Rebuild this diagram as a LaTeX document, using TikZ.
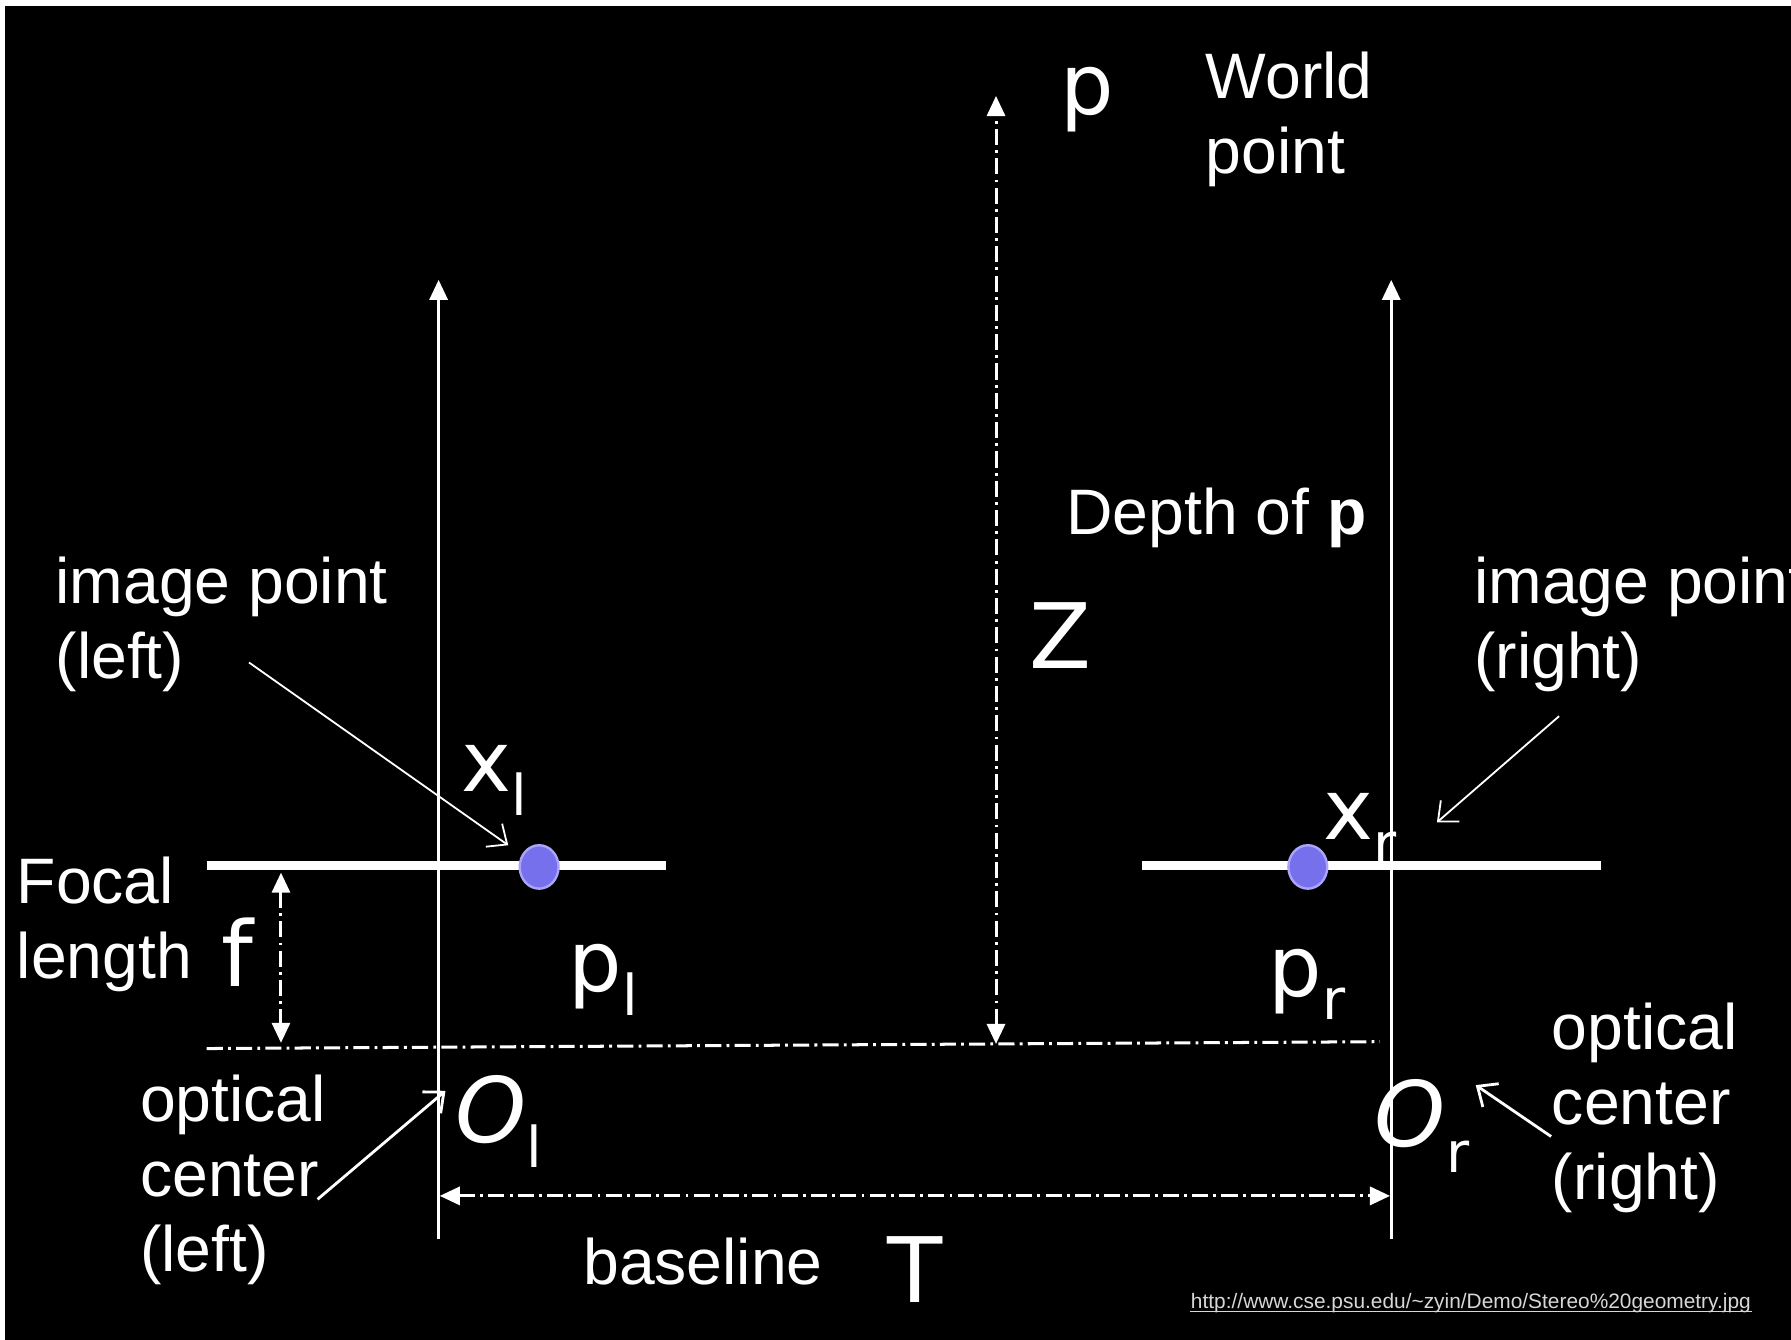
\documentclass[tikz,border=0pt]{standalone}
\usepackage{fontspec}
\setmainfont{Liberation Sans}
\newfontfamily\rnd{DejaVu Sans}
\usetikzlibrary{arrows.meta,shapes.geometric}
\definecolor{dotblue}{RGB}{118,112,236}
\definecolor{dotrim}{RGB}{170,165,250}
\definecolor{urlgray}{RGB}{215,215,215}
\newcommand\mysub[2]{#1\raisebox{-0.28em}{\upshape\fontsize{14}{14}\selectfont #2}}
\begin{document}
\begin{tikzpicture}[x=0.01cm,y=-0.01cm,
 lbl/.style={text=white,font=\fontsize{16}{18.7}\selectfont,inner sep=0pt,anchor=base west,align=left},
 sym/.style={text=white,font=\rnd\fontsize{21}{21}\selectfont,inner sep=0pt,anchor=base west},
 axisline/.style={white,line width=0.75pt,-{Triangle[length=5pt,width=4.5pt]}},
 plane/.style={white,line width=2.3pt},
 dd/.style={white,line width=0.75pt,dash pattern=on 4pt off 1.3pt on 0.7pt off 1.3pt},
 ddarr/.style={dd,{Triangle[length=5pt,width=4.5pt]}-{Triangle[length=5pt,width=4.5pt]}},
 ptr/.style={white,line width=0.45pt,-{Straight Barb[length=4pt,width=7pt]}},
 ptrb/.style={white,line width=0.7pt,-{Straight Barb[length=4pt,width=7pt]}},
 imgdot/.style={ellipse,minimum width=0.34cm,minimum height=0.38cm,fill=dotblue,draw=dotrim,line width=0.6pt,inner sep=0pt}]
\useasboundingbox (0,0) rectangle (1568,1173);
\fill[white] (0,0) rectangle (1568,1173);
\fill[black] (4,5) rectangle (1568,1173);

% coordinates
\coordinate (LaxB) at (384,1085);
\coordinate (LaxT) at (384,245);
\coordinate (RaxB) at (1218,1085);
\coordinate (RaxT) at (1218,245);
\coordinate (LplA) at (181,758);
\coordinate (LplB) at (583,758);
\coordinate (RplA) at (1000,758);
\coordinate (RplB) at (1402,758);
\coordinate (BlA) at (181,918);
\coordinate (BlB) at (1208,912);
\coordinate (ZB) at (872,914);
\coordinate (ZT) at (872,84);
\coordinate (fT) at (246,764);
\coordinate (fB) at (246,913);
\coordinate (TL) at (385,1047);
\coordinate (TR) at (1217,1047);
\coordinate (aIL0) at (218,580);
\coordinate (aIL1) at (445,740);
\coordinate (aIR0) at (1365,627);
\coordinate (aIR1) at (1258,720);
\coordinate (aOL0) at (278,1050);
\coordinate (aOL1) at (390,955);
\coordinate (aOR0) at (1358,995);
\coordinate (aOR1) at (1292,950);

% axes and planes
\draw[axisline] (LaxB) -- (LaxT);
\draw[axisline] (RaxB) -- (RaxT);
\draw[plane] (LplA) -- (LplB);
\draw[plane] (RplA) -- (RplB);

% dash-dot lines
\draw[dd] (BlA) -- (BlB);
\draw[ddarr] (ZB) -- (ZT);
\draw[ddarr] (fT) -- (fB);
\draw[ddarr] (TL) -- (TR);

% image points
\node[imgdot] (dotL) at (472,759) {};
\node[imgdot] (dotR) at (1145,759) {};

% pointer arrows
\draw[ptr] (aIL0) -- (aIL1);
\draw[ptr] (aIR0) -- (aIR1);
\draw[ptrb] (aOL0) -- (aOL1);
\draw[ptrb] (aOR0) -- (aOR1);

% text labels (anchor = baseline of last line)
\node[lbl] (nWorld) at (1055,152) {World\\point};
\node[lbl] (nDepth) at (933,468) {Depth of \textbf{p}};
\node[lbl] (nImgL) at (48,594) {image point\\(left)};
\node[lbl] (nImgR) at (1290,594) {image point\\(right)};
\node[lbl] (nFocal) at (14,857) {Focal\\length};
\node[lbl] (nOptL) at (122,1113) {optical\\center\\(left)};
\node[lbl] (nOptR) at (1358,1050) {optical\\center\\(right)};
\node[lbl] (nBase) at (510,1125) {baseline};
\node[text=urlgray,font=\fontsize{5.2}{6}\selectfont,inner sep=0pt,anchor=base west] (nURL) at (1042,1146) {http://www.cse.psu.edu/\textasciitilde zyin/Demo/Stereo\%20geometry.jpg};
\draw[urlgray,line width=0.35pt] ([yshift=-0.7pt]nURL.base west) -- ([yshift=-0.7pt]nURL.base east);

% symbols
\node[sym] (nP) at (928,100) {p};
\node[sym,font=\rnd\fontsize{22.5}{22.5}\selectfont] (nZ) at (901,585) {Z};
\node[sym] (nXl) at (403,693) {\mysub{x}{l}};
\node[sym] (nXr) at (1158,735) {\mysub{x}{r}};
\node[sym] (nPl) at (497,868) {\mysub{p}{l}};
\node[sym] (nPr) at (1110,872) {\mysub{p}{r}};
\node[sym,font=\rnd\fontsize{22.5}{22.5}\selectfont] (nF) at (193,864) {f};
\node[sym,font=\rnd\itshape\fontsize{22.5}{22.5}\selectfont] (nOl) at (398,1000) {\mysub{O}{l}};
\node[sym,font=\rnd\itshape\fontsize{22.5}{22.5}\selectfont] (nOr) at (1203,1004) {\mysub{O}{r}};
\node[sym,font=\rnd\fontsize{22.5}{22.5}\selectfont] (nT) at (776,1140) {T};
\end{tikzpicture}
\end{document}
